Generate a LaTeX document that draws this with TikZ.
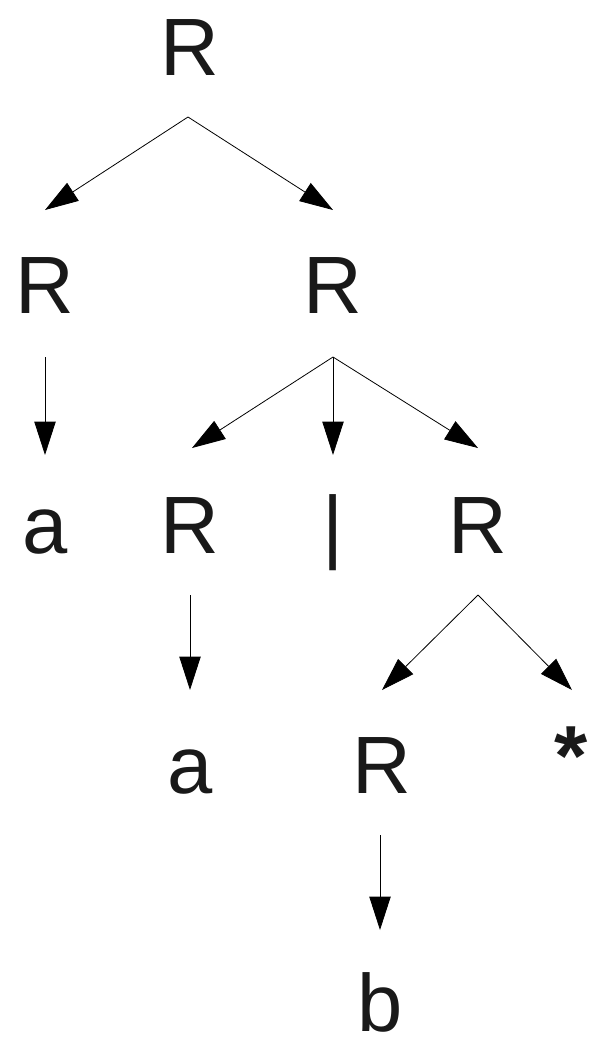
\documentclass[tikz,border=0pt]{standalone}
\usepackage{fontspec}
\setmainfont{Liberation Sans}
\usetikzlibrary{arrows.meta}
\tikzset{
  lbl/.style={anchor=base, inner sep=0pt, font=\fontsize{61}{61}\selectfont, text=black!90},
  edge/.style={line width=0.6pt, -{Triangle[length=25pt,width=16pt]}}
}
\begin{document}
\begin{tikzpicture}[x=0.75pt,y=-0.75pt]
\useasboundingbox (0,0) rectangle (599,1040);
% labels
\node[lbl] (r0) at (190,75) {R};
\node[lbl] (r1) at (45,313) {R};
\node[lbl] (r2) at (333,313) {R};
\node[lbl] (a1) at (45,553) {a};
\node[lbl] (r3) at (190,553) {R};
\node[lbl] (bar) at (333,553) {|};
\node[lbl] (r4) at (478,553) {R};
\node[lbl] (a2) at (190,793) {a};
\node[lbl] (r5) at (382,793) {R};
\node[lbl, font=\fontsize{64}{64}\selectfont\bfseries] (st) at (571,785) {*};
\node[lbl] (b) at (380,1031) {b};
% connector points
\coordinate (r0s) at (188,117);
\coordinate (r1t) at (45,210);
\coordinate (r2t) at (333,210);
\coordinate (r1s) at (45,357);
\coordinate (a1t) at (45,455);
\coordinate (r2s) at (333,357);
\coordinate (r3t) at (192,448);
\coordinate (bart) at (333,455);
\coordinate (r4t) at (478,448);
\coordinate (r3s) at (190,595);
\coordinate (a2t) at (190,690);
\coordinate (r4s) at (478,595);
\coordinate (r5t) at (382,690);
\coordinate (stt) at (572,690);
\coordinate (r5s) at (380,835);
\coordinate (bt) at (380,930);
% edges
\draw[edge] (r0s) -- (r1t);
\draw[edge] (r0s) -- (r2t);
\draw[edge] (r1s) -- (a1t);
\draw[edge] (r2s) -- (r3t);
\draw[edge] (r2s) -- (bart);
\draw[edge] (r2s) -- (r4t);
\draw[edge] (r3s) -- (a2t);
\draw[edge] (r4s) -- (r5t);
\draw[edge] (r4s) -- (stt);
\draw[edge] (r5s) -- (bt);
\end{tikzpicture}
\end{document}
